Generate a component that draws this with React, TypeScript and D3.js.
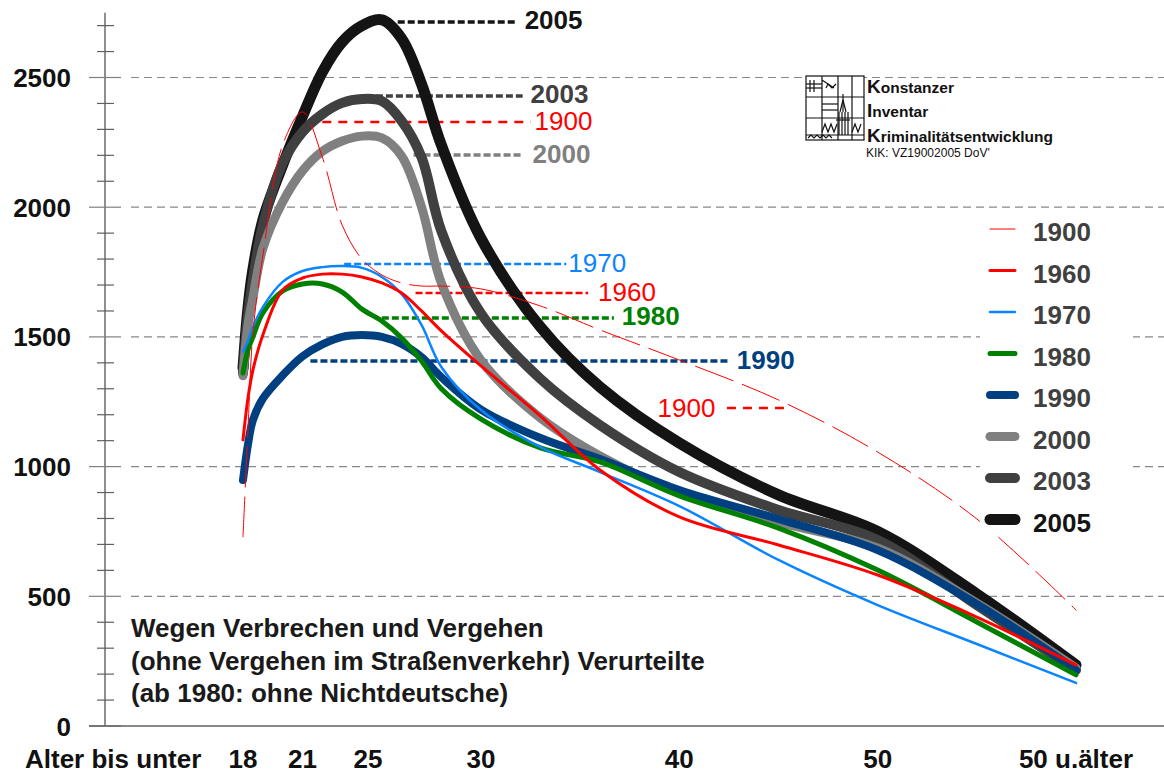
import { useMemo } from 'react'
import * as d3 from 'd3'

const ages = [18, 18.25, 18.5, 19, 20, 21, 22, 23, 24, 25, 26, 27, 28, 30, 33, 36, 40, 45, 50, 55, 60]

const v1900 = [729, 1141, 1515, 1812, 2240, 2367, 2193, 1931, 1800, 1739, 1708, 1696, 1696, 1685, 1619, 1527, 1411, 1257, 1056, 798, 447]
const v1960 = [1103, 1264, 1372, 1507, 1681, 1727, 1742, 1742, 1731, 1708, 1669, 1600, 1523, 1388, 1195, 987, 806, 698, 582, 420, 235]
const v1970 = [1442, 1484, 1538, 1615, 1712, 1754, 1769, 1773, 1766, 1731, 1665, 1546, 1384, 1218, 1075, 979, 848, 640, 466, 316, 166]
const v1980 = [1361, 1450, 1500, 1592, 1677, 1704, 1704, 1673, 1607, 1561, 1496, 1407, 1300, 1183, 1072, 1018, 887, 763, 601, 401, 197]
const v1990 = [948, 1085, 1180, 1262, 1352, 1425, 1471, 1500, 1507, 1500, 1473, 1422, 1345, 1220, 1110, 1029, 910, 798, 678, 470, 216]
const v2000 = [1350, 1546, 1650, 1840, 2020, 2140, 2215, 2255, 2274, 2267, 2197, 2001, 1708, 1410, 1187, 1041, 898, 786, 686, 474, 224]
const v2003 = [1360, 1580, 1720, 1930, 2170, 2290, 2359, 2402, 2417, 2409, 2332, 2193, 1908, 1590, 1338, 1160, 979, 833, 717, 466, 216]
const v2005 = [1380, 1610, 1760, 1950, 2163, 2350, 2521, 2637, 2700, 2722, 2650, 2475, 2240, 1880, 1538, 1307, 1091, 891, 750, 509, 235]

const xTickLabels = ['18', '21', '25', '30', '40', '50', '50 u.älter']
// the "25" label sits a bit left of age 25 in the original
const xTickAges = [18, 21, 24.3, 30, 40, 50, 60]
const yMajor = [0, 500, 1000, 1500, 2000, 2500]
const yMinor = d3.range(100, 2800, 100).filter((v) => v % 500 !== 0)

const legendYears = ['1900', '1960', '1970', '1980', '1990', '2000', '2003', '2005']

// callouts: [year, value, lineFromAge, lineToAge, textAge, textBefore]
const callouts: [string, number, number, number, number, boolean][] = [
  ['2005', 2714, 25.8, 31.8, 32.2, false],
  ['2003', 2429, 24.7, 32.1, 32.5, false],
  ['1900', 2328, 22.0, 32.5, 32.7, false],
  ['2000', 2201, 26.6, 32.1, 32.6, false],
  ['1970', 1781, 23.1, 34.3, 34.4, false],
  ['1960', 1669, 26.7, 35.4, 35.9, false],
  ['1980', 1573, 25.0, 36.7, 37.1, false],
  ['1990', 1407, 21.4, 42.5, 42.9, false],
  ['1900', 1226, 42.4, 45.3, 38.9, true],
]

const titleLines = [
  'Wegen Verbrechen und Vergehen',
  '(ohne Vergehen im Straßenverkehr) Verurteilte',
  '(ab 1980: ohne Nichtdeutsche)',
]

const styles: Record<string, { color: string; width: number; dash?: string; text: string; bold: boolean }> = {
  '1900': { color: '#ff0000', width: 1, dash: '40 10', text: '#ff0000', bold: false },
  '1960': { color: '#ff0000', width: 3, text: '#ff0000', bold: false },
  '1970': { color: '#0a84ff', width: 2.5, text: '#0a84ff', bold: false },
  '1980': { color: '#008000', width: 5, text: '#008000', bold: true },
  '1990': { color: '#004080', width: 8, text: '#004080', bold: true },
  '2000': { color: '#808080', width: 9, text: '#808080', bold: true },
  '2003': { color: '#404040', width: 10, text: '#404040', bold: true },
  '2005': { color: '#141414', width: 11, text: '#141414', bold: true },
}

const font = '"Liberation Sans", Arial, sans-serif'

export default function App() {
  const W = 1164
  const H = 773
  const x = d3.scaleLinear().domain([18, 60]).range([243, 1076])
  const y = d3.scaleLinear().domain([0, 2500]).range([726, 77.5])

  const series = useMemo(
    () => [
      { year: '2005', values: v2005 },
      { year: '2003', values: v2003 },
      { year: '2000', values: v2000 },
      { year: '1990', values: v1990 },
      { year: '1980', values: v1980 },
      { year: '1970', values: v1970 },
      { year: '1960', values: v1960 },
      { year: '1900', values: v1900 },
    ],
    []
  )

  const line = d3
    .line<number>()
    .x((_, i) => x(ages[i]))
    .y((d) => y(d))
    .curve(d3.curveCatmullRom.alpha(0.5))

  const axisX = 105

  return (
    <svg width={W} height={H} style={{ position: 'absolute', left: 0, top: 0, background: '#fff' }} fontFamily={font}>
      <rect width={W} height={H} fill="#fff" />

      {/* grid */}
      {yMajor.slice(1).map((v) => (
        <line key={'g' + v} x1={131} x2={W} y1={y(v)} y2={y(v)} stroke="#888" strokeWidth={1.2} strokeDasharray="8 5" />
      ))}

      {/* y axis */}
      <line x1={axisX} x2={axisX} y1={y(2750)} y2={y(0)} stroke="#606060" strokeWidth={1.4} />
      {yMinor.map((v) => (
        <line key={'m' + v} x1={97} x2={114} y1={y(v)} y2={y(v)} stroke="#606060" strokeWidth={1.2} />
      ))}
      {yMajor.map((v) => (
        <g key={'t' + v}>
          <line x1={89} x2={121} y1={y(v)} y2={y(v)} stroke="#808080" strokeWidth={1.2} />
          <text x={71} y={y(v) + 9.5} textAnchor="end" fontSize={26} fontWeight="bold" fill="#111">
            {v}
          </text>
        </g>
      ))}
      <line x1={89} x2={W} y1={y(0)} y2={y(0)} stroke="#606060" strokeWidth={1.5} />

      {/* x labels */}
      <text x={25} y={768} fontSize={26} fontWeight="bold" fill="#111">
        Alter bis unter
      </text>
      {xTickLabels.map((t, i) => (
        <text key={t} x={x(xTickAges[i])} y={768} textAnchor="middle" fontSize={26} fontWeight="bold" fill="#111">
          {t}
        </text>
      ))}

      {/* title block */}
      {titleLines.map((t, i) => (
        <text key={t} x={131} y={637 + i * 32.5} fontSize={26} fontWeight="bold" fill="#1a1a1a">
          {t}
        </text>
      ))}

      {/* callout lines */}
      {callouts.map(([yr, v, a0, a1, ta, before], i) => {
        const s = styles[yr]
        const thin = !s.bold
        return (
          <g key={'c' + i}>
            <line
              x1={x(a0)}
              x2={x(a1)}
              y1={y(v)}
              y2={y(v)}
              stroke={s.text}
              strokeWidth={thin ? 2.5 : 3.5}
              strokeDasharray={yr === '1900' ? '9 7' : '7 3'}
            />
            <text
              x={x(ta)}
              y={y(v) + (before ? 9 : 7.5)}
              fontSize={26}
              fontWeight={s.bold ? 'bold' : 'normal'}
              fill={s.text}
            >
              {yr}
            </text>
          </g>
        )
      })}

      {/* series */}
      {series.map((s) => {
        const st = styles[s.year]
        return (
          <path
            key={s.year}
            d={line(s.values) || ''}
            fill="none"
            stroke={st.color}
            strokeWidth={st.width}
            strokeDasharray={st.dash}
            strokeLinecap="round"
            strokeLinejoin="round"
          />
        )
      })}

      {/* legend */}
      <rect x={980} y={212} width={153} height={323} fill="#fff" />
      {legendYears.map((yr, i) => {
        const st = styles[yr]
        const ly = 229 + i * 41.5
        return (
          <g key={'l' + yr}>
            <line x1={990} x2={1015} y1={ly} y2={ly} stroke={st.color} strokeWidth={st.width} strokeLinecap="round" />
            <text x={1033} y={ly + 12} fontSize={26} fontWeight="bold" fill={yr === '2005' ? '#141414' : '#404040'}>
              {yr}
            </text>
          </g>
        )
      })}

      {/* logo */}
      <g stroke="#111" strokeWidth={1.2} fill="none">
        <rect x={806} y={76} width={58} height={64} fill="#fff" />
        <line x1={806} x2={864} y1={97} y2={97} />
        <line x1={806} x2={864} y1={118} y2={118} />
        <line x1={806} x2={864} y1={135} y2={135} />
        <line x1={822} x2={822} y1={76} y2={140} />
        <line x1={838} x2={838} y1={76} y2={140} />
        <line x1={852} x2={852} y1={76} y2={140} />
        <line x1={810} x2={810} y1={80} y2={92} />
        <line x1={814} x2={814} y1={80} y2={92} />
        <line x1={806} x2={822} y1={84} y2={84} />
        <line x1={806} x2={822} y1={88} y2={88} />
        <line x1={822} x2={834} y1={80} y2={88} />
        <polyline points="826,88 828,84 832,88 836,84" />
        <line x1={822} x2={838} y1={104} y2={104} />
        <line x1={822} x2={838} y1={110} y2={110} />
        <polyline points="840,112 843,100 846,112" />
        <line x1={843} x2={843} y1={94} y2={112} />
        <line x1={839} x2={839} y1={112} y2={135} />
        <line x1={842} x2={842} y1={112} y2={135} />
        <line x1={845} x2={845} y1={112} y2={135} />
        <line x1={848} x2={848} y1={112} y2={135} />
        <line x1={836} x2={850} y1={120} y2={120} />
        <polyline points="822,132 825,124 828,132 831,124 834,132 837,124" />
        <polyline points="852,132 855,124 858,132 861,124" />
        <polyline points="808,138 811,135 814,138 817,135 820,138 823,135 826,138 829,135 832,138" />
      </g>
      <text x={867} y={93} fontSize={15.5} fontWeight="bold" fill="#111">
        <tspan fontSize={19}>K</tspan>onstanzer
      </text>
      <text x={867} y={117} fontSize={15.5} fontWeight="bold" fill="#111">
        <tspan fontSize={19}>I</tspan>nventar
      </text>
      <text x={867} y={142} fontSize={15.5} fontWeight="bold" fill="#111">
        <tspan fontSize={19}>K</tspan>riminalitätsentwicklung
      </text>
      <text x={866} y={157} fontSize={12} fill="#111">
        KIK: VZ19002005 DoV'
      </text>
    </svg>
  )
}
